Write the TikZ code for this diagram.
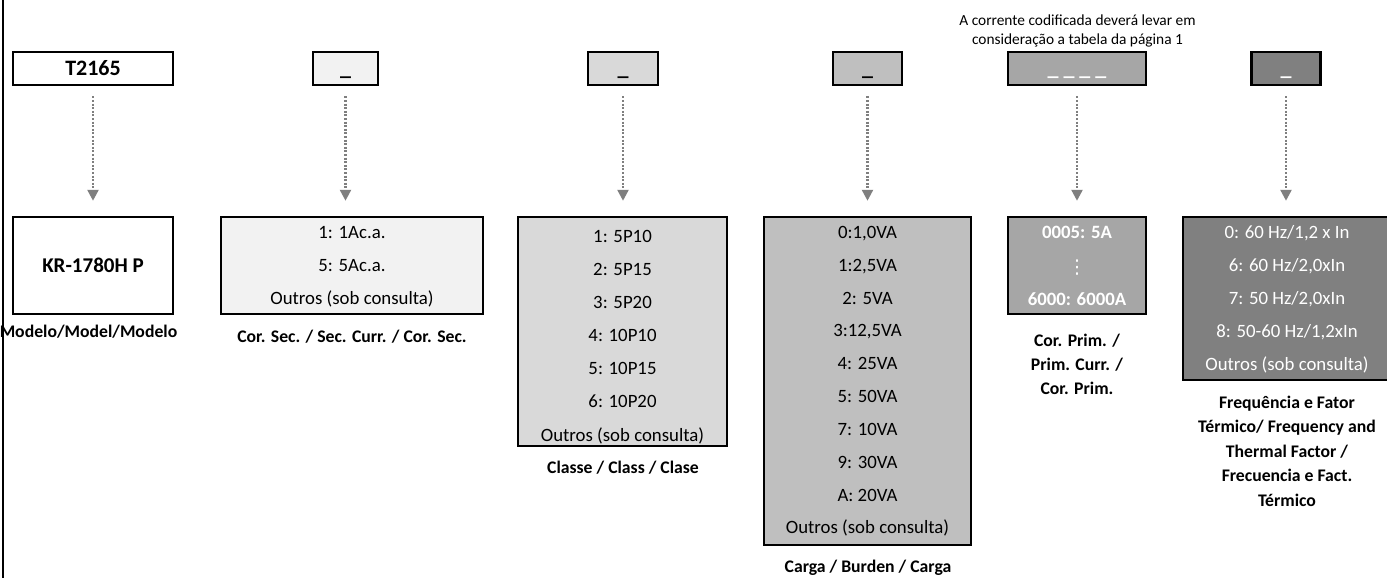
\documentclass[tikz,border=0pt]{standalone}
\usepackage{fontspec}
\setmainfont{Carlito}
\newfontfamily\dejavu{DejaVu Sans}
\usetikzlibrary{arrows.meta}
\definecolor{fillA}{HTML}{F2F2F2}
\definecolor{fillB}{HTML}{D9D9D9}
\definecolor{fillC}{HTML}{BFBFBF}
\definecolor{fillD}{HTML}{A6A6A6}
\definecolor{fillE}{HTML}{808080}
\definecolor{arrowgray}{HTML}{7F7F7F}
% #1 name prefix, #2 x, #3 first baseline, #4 spacing, #5 style, #6 lines
\newcommand{\boxlines}[6]{%
  \foreach \s [count=\i from 0] in {#6}{%
    \node[#5, anchor=base] (#1-\i) at (#2, #3+#4*\i) {\s};}}
\begin{document}
\begin{tikzpicture}[x=1pt,y=-1pt,
  topbox/.style={draw=black, line width=2.5pt, inner sep=0pt, minimum height=33pt,
    text height=13.3pt, text depth=0pt, font=\fontsize{22}{26}\selectfont\bfseries},
  listbox/.style={draw=black, line width=2.5pt, inner sep=0pt},
  item/.style={inner sep=0pt, font=\fontsize{18.8}{22}\selectfont},
  itemw/.style={item, text=white},
  itemwb/.style={item, text=white, font=\fontsize{18.8}{22}\selectfont\bfseries},
  caption/.style={inner sep=0pt, font=\fontsize{17.7}{22}\selectfont\bfseries},
  note/.style={inner sep=0pt, font=\fontsize{15.4}{18}\selectfont},
  conn/.style={draw=arrowgray, line width=2.4pt, dash pattern=on 2pt off 1.6pt,
    -{Triangle[width=11pt,length=11pt]}}
]
\useasboundingbox (0,0) rectangle (1387,578);
\fill[white] (0,0) rectangle (1387,578);
\coordinate (lt) at (2.5,0);
\coordinate (lb) at (2.5,578);
\draw[line width=2pt] (lt) -- (lb);

% note
\node[note, anchor=base] (n1) at (1077.5,26) {A corrente codificada deverá levar em};
\node[note, anchor=base] (n2) at (1077.5,44.3) {consideração a tabela da página 1};

% top boxes
\node[topbox, fill=white, minimum width=160pt] (t1) at (93,68.7) {T2165};
\node[topbox, fill=fillA, minimum width=65pt] (t2) at (345.5,68.7) {\_};
\node[topbox, fill=fillB, minimum width=70pt] (t3) at (623,68.7) {\_};
\node[topbox, fill=fillC, minimum width=69pt] (t4) at (867.5,68.7) {\_};
\node[topbox, fill=fillD, minimum width=138pt, text=white] (t5) at (1077,68.7) {\_ \_ \_ \_};
\node[topbox, fill=fillE, minimum width=69pt, text=white] (t6) at (1286,68.7) {\_};

% bottom boxes
\node[listbox, fill=white, minimum width=160pt, minimum height=97pt,
  text height=13.5pt, text depth=0pt, font=\fontsize{21}{24}\selectfont\bfseries] (b1) at (93,265.5) {KR-1780H P};
\node[listbox, fill=fillA, minimum width=262pt, minimum height=97pt] (b2) at (352,265.5) {};
\node[listbox, fill=fillB, minimum width=209pt, minimum height=229pt] (b3) at (622.5,331.5) {};
\node[listbox, fill=fillC, minimum width=207pt, minimum height=328pt] (b4) at (867.5,381) {};
\node[listbox, fill=fillD, minimum width=138pt, minimum height=97pt] (b5) at (1077,265.5) {};
\node[listbox, fill=fillE, minimum width=216pt, minimum height=163pt] (b6) at (1291,298.5) {};

% box contents
\boxlines{l2}{352}{238.5}{33}{item}{1: 1Ac.a., 5: 5Ac.a., Outros (sob consulta)}
\boxlines{l3}{622.5}{242.7}{33.05}{item}{1: 5P10, 2: 5P15, 3: 5P20, 4: 10P10, 5: 10P15, 6: 10P20, Outros (sob consulta)}
\boxlines{l4}{867.5}{238.5}{32.83}{item}{{0:1,0VA}, {1:2,5VA}, 2: 5VA, {3:12,5VA}, 4: 25VA, 5: 50VA, 7: 10VA, 9: 30VA, A: 20VA, Outros (sob consulta)}
\node[itemwb, anchor=base] (l5-0) at (1077,238.5) {0005: 5A};
\node[inner sep=0pt, text=white, font=\dejavu\fontsize{19}{22}\selectfont] (l5-1) at (1077,268) {⋮};
\node[itemwb, anchor=base] (l5-2) at (1077,305) {6000: 6000A};
\boxlines{l6}{1287}{238.5}{33.1}{itemw}{{0: 60 Hz/1,2 x In}, {6: 60 Hz/2,0xIn}, {7: 50 Hz/2,0xIn}, {8: 50-60 Hz/1,2xIn}, Outros (sob consulta)}

% captions
\node[caption, anchor=base] (c1) at (88.5,337.4) {Modelo/Model/Modelo};
\node[caption, anchor=base] (c2) at (352,342.7) {Cor. Sec. / Sec. Curr. / Cor. Sec.};
\node[caption, anchor=base] (c3) at (623,473.7) {Classe / Class / Clase};
\node[caption, anchor=base] (c4) at (868,572) {Carga / Burden / Carga};
\boxlines{c5}{1077}{346.5}{24.2}{caption}{Cor. Prim. /, Prim. Curr. /, Cor. Prim.}
\boxlines{c6}{1287}{408}{24.6}{caption}{Frequência e Fator, Térmico/ Frequency and, Thermal Factor /, Frecuencia e Fact., Térmico}

% connectors
\foreach \t/\b in {t1/b1,t2/b2,t3/b3,t4/b4,t5/b5,t6/b6}{
  \draw[conn] ([yshift=-10pt]\t.south) -- ([yshift=15pt]\t.south |- \b.north);
}
\end{tikzpicture}
\end{document}
